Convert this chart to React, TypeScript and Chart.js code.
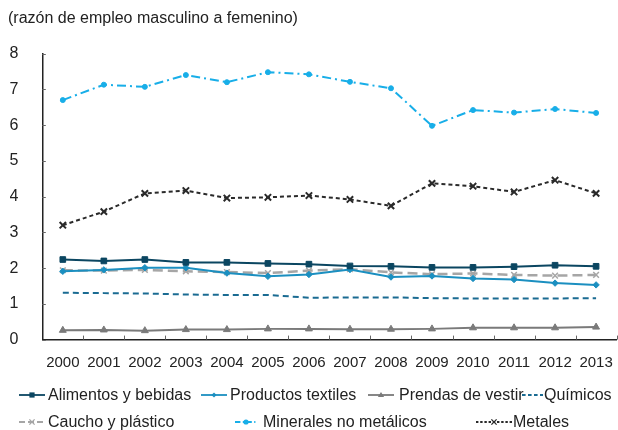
import React, { useEffect, useRef } from "react";
import { Chart, registerables } from "chart.js";

Chart.register(...registerables);

const TITLE = "(razón de empleo masculino a femenino)";
const YEARS = ["2000", "2001", "2002", "2003", "2004", "2005", "2006", "2007", "2008", "2009", "2010", "2011", "2012", "2013"];

const ALIMENTOS = [2.24, 2.2, 2.24, 2.16, 2.16, 2.13, 2.11, 2.06, 2.05, 2.02, 2.02, 2.04, 2.08, 2.05];
const TEXTILES = [1.91, 1.95, 2.01, 2.01, 1.86, 1.77, 1.82, 1.96, 1.75, 1.78, 1.71, 1.68, 1.58, 1.53];
const PRENDAS = [0.26, 0.27, 0.25, 0.28, 0.28, 0.3, 0.3, 0.29, 0.29, 0.3, 0.33, 0.33, 0.33, 0.35];
const QUIMICOS = [1.31, 1.3, 1.29, 1.26, 1.25, 1.25, 1.17, 1.18, 1.18, 1.16, 1.15, 1.15, 1.15, 1.16];
const CAUCHO = [1.94, 1.93, 1.95, 1.91, 1.89, 1.86, 1.93, 1.97, 1.88, 1.83, 1.85, 1.81, 1.79, 1.81];
const MINERALES = [6.7, 7.13, 7.07, 7.4, 7.2, 7.48, 7.42, 7.21, 7.03, 5.98, 6.42, 6.35, 6.45, 6.34];
const METALES = [3.2, 3.58, 4.09, 4.17, 3.96, 3.98, 4.03, 3.92, 3.74, 4.37, 4.29, 4.13, 4.46, 4.09];

const Y_MIN = 0;
const Y_MAX = 8;
const Y_STEP = 1;

const FONT = "'Liberation Sans', Arial, Helvetica, sans-serif";
const TEXT = "#222";

type S = {
  label: string;
  data: number[];
  color: string;
  dash: number[];
  width: number;
  point: string | false;
  radius: number;
  pbw: number;
};

const SERIES: S[] = [
  { label: "Alimentos y bebidas", data: ALIMENTOS, color: "#0b4661", dash: [], width: 2, point: "rect", radius: 4, pbw: 1 },
  { label: "Productos textiles", data: TEXTILES, color: "#1b8fc0", dash: [], width: 2, point: "rectRot", radius: 3.2, pbw: 1 },
  { label: "Prendas de vestir", data: PRENDAS, color: "#7a7a7a", dash: [], width: 2, point: "triangle", radius: 4, pbw: 1 },
  { label: "Químicos", data: QUIMICOS, color: "#1a6b92", dash: [6, 4], width: 2, point: false, radius: 0, pbw: 0 },
  { label: "Caucho y plástico", data: CAUCHO, color: "#a6a6a6", dash: [10, 5], width: 2.5, point: "crossRot", radius: 4, pbw: 1.5 },
  { label: "Minerales no metálicos", data: MINERALES, color: "#18aee8", dash: [9, 4, 2, 4], width: 2, point: "circle", radius: 2.5, pbw: 1 },
  { label: "Metales", data: METALES, color: "#2a2a2a", dash: [4, 3], width: 2, point: "crossRot", radius: 4.5, pbw: 2 },
];

// legend layout (sample left, text left, row, sample width)
const LEGEND_POS = [
  { s: 19, t: 48, row: 0, w: 26 },
  { s: 201, t: 230, row: 0, w: 26 },
  { s: 368, t: 399, row: 0, w: 26 },
  { s: 522, t: 544, row: 0, w: 21 },
  { s: 19, t: 48, row: 1, w: 26 },
  { s: 235, t: 263, row: 1, w: 22 },
  { s: 476, t: 513, row: 1, w: 36 },
];
const LEGEND_ROW_Y = [395, 421.5];

const innerTicks = {
  id: "innerTicks",
  afterDraw(chart: any) {
    const { ctx, chartArea } = chart;
    const xs = chart.scales.x;
    const ys = chart.scales.y;
    ctx.save();
    ctx.strokeStyle = "#666";
    ctx.lineWidth = 1;
    ctx.beginPath();
    ys.ticks.forEach((t: any) => {
      const y = Math.round(ys.getPixelForValue(t.value)) + 0.5;
      ctx.moveTo(chartArea.left, y);
      ctx.lineTo(chartArea.left + 3.5, y);
    });
    const n = YEARS.length;
    const half = (xs.getPixelForValue(1) - xs.getPixelForValue(0)) / 2;
    for (let i = 1; i <= n; i++) {
      const x = Math.round(xs.getPixelForValue(i) - half) + 0.5;
      ctx.moveTo(x, chartArea.bottom);
      ctx.lineTo(x, chartArea.bottom - 4);
    }
    ctx.stroke();
    ctx.restore();
  },
};

function Sample({ s, w }: { s: S; w: number }) {
  const h = 12;
  const cy = h / 2;
  const cx = w / 2;
  let marker: any = null;
  const r = 2.6;
  if (s.point === "rect") marker = <rect x={cx - r} y={cy - r} width={2 * r} height={2 * r} fill={s.color} />;
  else if (s.point === "rectRot") marker = <polygon points={`${cx},${cy - r} ${cx + r},${cy} ${cx},${cy + r} ${cx - r},${cy}`} fill={s.color} />;
  else if (s.point === "triangle") marker = <polygon points={`${cx},${cy - r - 0.5} ${cx + r + 0.5},${cy + r - 0.5} ${cx - r - 0.5},${cy + r - 0.5}`} fill={s.color} />;
  else if (s.point === "circle") marker = <circle cx={cx} cy={cy} r={r} fill={s.color} />;
  else if (s.point === "crossRot")
    marker = (
      <path d={`M${cx - r},${cy - r}L${cx + r},${cy + r}M${cx + r},${cy - r}L${cx - r},${cy + r}`} stroke={s.color} strokeWidth={1.3} />
    );
  return (
    <svg width={w} height={h} style={{ display: "block" }}>
      <line x1={0} y1={cy} x2={w} y2={cy} stroke={s.color} strokeWidth={s.width > 2 ? 2 : 1.8} strokeDasharray={s.dash.length ? s.dash.map((d) => d * 0.6).join(" ") : undefined} />
      {marker}
    </svg>
  );
}

export default function App() {
  const ref = useRef<HTMLCanvasElement | null>(null);

  useEffect(() => {
    if (!ref.current) return;
    const chart = new Chart(ref.current, {
      type: "line",
      data: {
        labels: YEARS,
        datasets: SERIES.map((s) => ({
          label: s.label,
          data: s.data,
          borderColor: s.color,
          backgroundColor: s.color,
          borderWidth: s.width,
          borderDash: s.dash,
          pointStyle: (s.point || "circle") as any,
          pointRadius: s.point ? s.radius : 0,
          pointBorderWidth: s.pbw,
          pointBackgroundColor: s.color,
          pointBorderColor: s.color,
          tension: 0,
          fill: false,
        })),
      },
      options: {
        animation: false,
        responsive: false,
        maintainAspectRatio: false,
        layout: { padding: { left: 10, right: 0, top: 53.6, bottom: 59 } },
        plugins: {
          legend: { display: false },
          tooltip: { enabled: false },
          title: { display: false },
        },
        scales: {
          x: {
            offset: true,
            grid: { display: false, drawTicks: false },
            border: { display: true, color: "#222", width: 1.5 },
            ticks: {
              color: TEXT,
              font: { family: FONT, size: 15 },
              padding: 14,
              maxRotation: 0,
              autoSkip: false,
            },
            afterFit(scale: any) {
              scale.height = 31.4;
            },
          },
          y: {
            min: Y_MIN,
            max: Y_MAX,
            grid: { display: false, drawTicks: false },
            border: { display: true, color: "#222", width: 1.5 },
            ticks: {
              stepSize: Y_STEP,
              color: TEXT,
              font: { family: FONT, size: 16 },
              padding: 24,
            },
            afterFit(scale: any) {
              scale.width = 32.3;
            },
          },
        },
      },
      plugins: [innerTicks],
    });
    return () => chart.destroy();
  }, []);

  return (
    <div style={{ position: "fixed", left: 0, top: 0, width: 618, height: 430, background: "#fff", overflow: "hidden" }}>
      <canvas ref={ref} width={627} height={430} style={{ position: "absolute", left: 0, top: 0 }} />
      <div
        style={{
          position: "absolute",
          left: 8,
          top: 8,
          font: `16px ${FONT}`,
          color: TEXT,
          whiteSpace: "nowrap",
          lineHeight: "20px",
        }}
      >
        {TITLE}
      </div>
      {SERIES.map((s, i) => {
        const p = LEGEND_POS[i];
        const cy = LEGEND_ROW_Y[p.row];
        return (
          <React.Fragment key={s.label}>
            <div style={{ position: "absolute", left: p.s, top: cy - 6 }}>
              <Sample s={s} w={p.w} />
            </div>
            <div
              style={{
                position: "absolute",
                left: p.t,
                top: cy - 10,
                font: `16px ${FONT}`,
                lineHeight: "20px",
                color: TEXT,
                whiteSpace: "nowrap",
              }}
            >
              {s.label}
            </div>
          </React.Fragment>
        );
      })}
    </div>
  );
}
